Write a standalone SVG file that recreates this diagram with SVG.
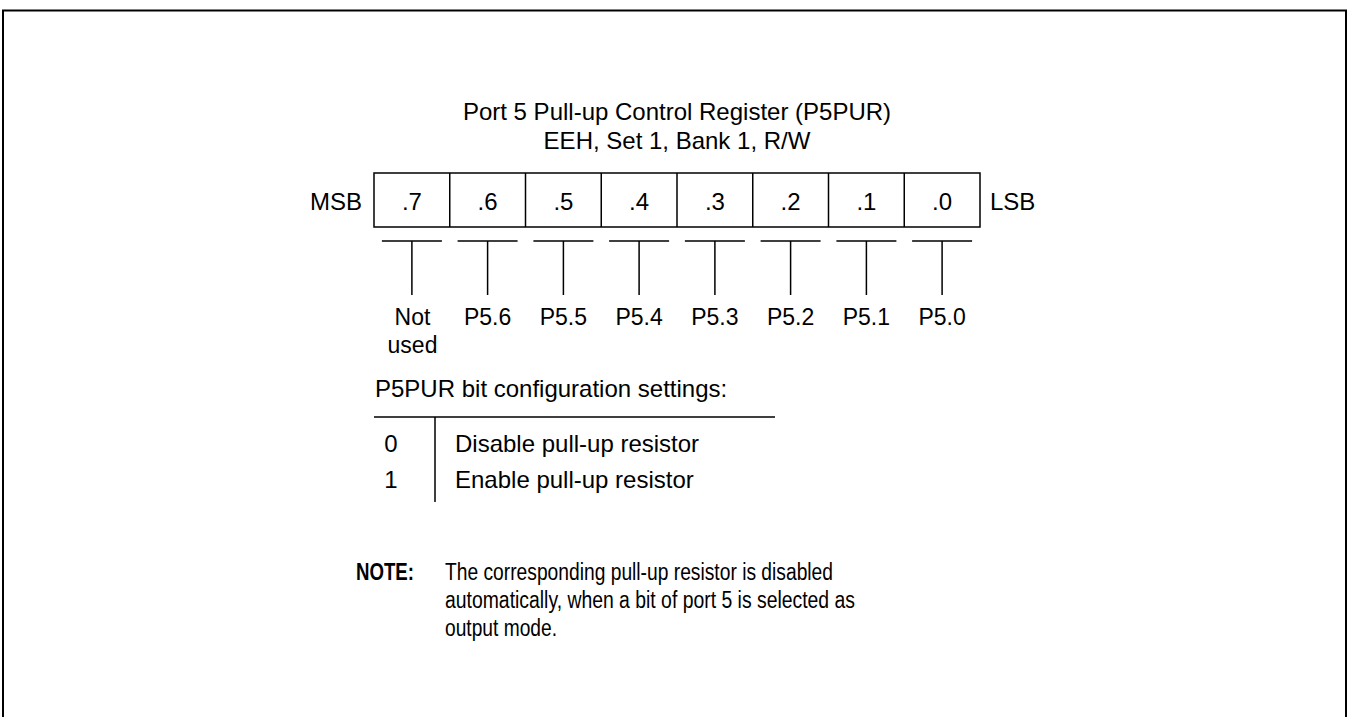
<svg xmlns="http://www.w3.org/2000/svg" width="1348" height="717" viewBox="0 0 1348 717">
<style>
text{font-family:"Liberation Sans",Arial,sans-serif;font-size:24px;fill:#000}
.c{text-anchor:middle}
.e{text-anchor:end}
.lb{font-size:23px}
.ln{stroke:#000;stroke-width:1.5;fill:none}
.note{font-size:23px}
.b{font-weight:bold}
</style>
<rect width="1348" height="717" fill="#fff"/>
<path d="M3,717 V10.5 H1346 V717" fill="none" stroke="#000" stroke-width="2"/>
<g id="title">
<text class="c" x="677" y="120">Port 5 Pull-up Control Register (P5PUR)</text>
<text class="c" x="677" y="149">EEH, Set 1, Bank 1, R/W</text>
</g>
<g id="register">
<rect class="ln" x="374" y="173" width="606" height="54"/>
<path class="ln" d="M449.75,173V227M525.5,173V227M601.25,173V227M677,173V227M752.75,173V227M828.5,173V227M904.25,173V227"/>
<text class="e" x="362" y="210">MSB</text>
<text x="990" y="210">LSB</text>
<text class="c" x="411.9" y="210">.7</text>
<text class="c" x="487.6" y="210">.6</text>
<text class="c" x="563.4" y="210">.5</text>
<text class="c" x="639.1" y="210">.4</text>
<text class="c" x="714.9" y="210">.3</text>
<text class="c" x="790.6" y="210">.2</text>
<text class="c" x="866.4" y="210">.1</text>
<text class="c" x="942.1" y="210">.0</text>
</g>
<g id="connectors">
<path class="ln" d="M381.9,241H441.9M411.9,241V295M457.6,241H517.6M487.6,241V295M533.4,241H593.4M563.4,241V295M609.1,241H669.1M639.1,241V295M684.9,241H744.9M714.9,241V295M760.6,241H820.6M790.6,241V295M836.4,241H896.4M866.4,241V295M912.1,241H972.1M942.1,241V295"/>
</g>
<g id="labels">
<text class="c lb" x="412.5" y="325">Not</text>
<text class="c lb" x="412.5" y="353">used</text>
<text class="c lb" x="487.6" y="325">P5.6</text>
<text class="c lb" x="563.4" y="325">P5.5</text>
<text class="c lb" x="639.1" y="325">P5.4</text>
<text class="c lb" x="714.9" y="325">P5.3</text>
<text class="c lb" x="790.6" y="325">P5.2</text>
<text class="c lb" x="866.4" y="325">P5.1</text>
<text class="c lb" x="942.1" y="325">P5.0</text>
</g>
<g id="settings">
<text x="375" y="397">P5PUR bit configuration settings:</text>
<path class="ln" d="M374,417H775M435,417V502"/>
<text class="c" x="391" y="452">0</text>
<text class="c" x="391" y="488">1</text>
<text x="455" y="452">Disable pull-up resistor</text>
<text x="455" y="488">Enable pull-up resistor</text>
</g>
<g id="note">
<text class="note b" x="356" y="580" textLength="58" lengthAdjust="spacingAndGlyphs">NOTE:</text>
<text class="note" x="445" y="580" textLength="388" lengthAdjust="spacingAndGlyphs">The corresponding pull-up resistor is disabled</text>
<text class="note" x="445" y="608" textLength="410" lengthAdjust="spacingAndGlyphs">automatically, when a bit of port 5 is selected as</text>
<text class="note" x="445" y="636" textLength="112" lengthAdjust="spacingAndGlyphs">output mode.</text>
</g>
</svg>
